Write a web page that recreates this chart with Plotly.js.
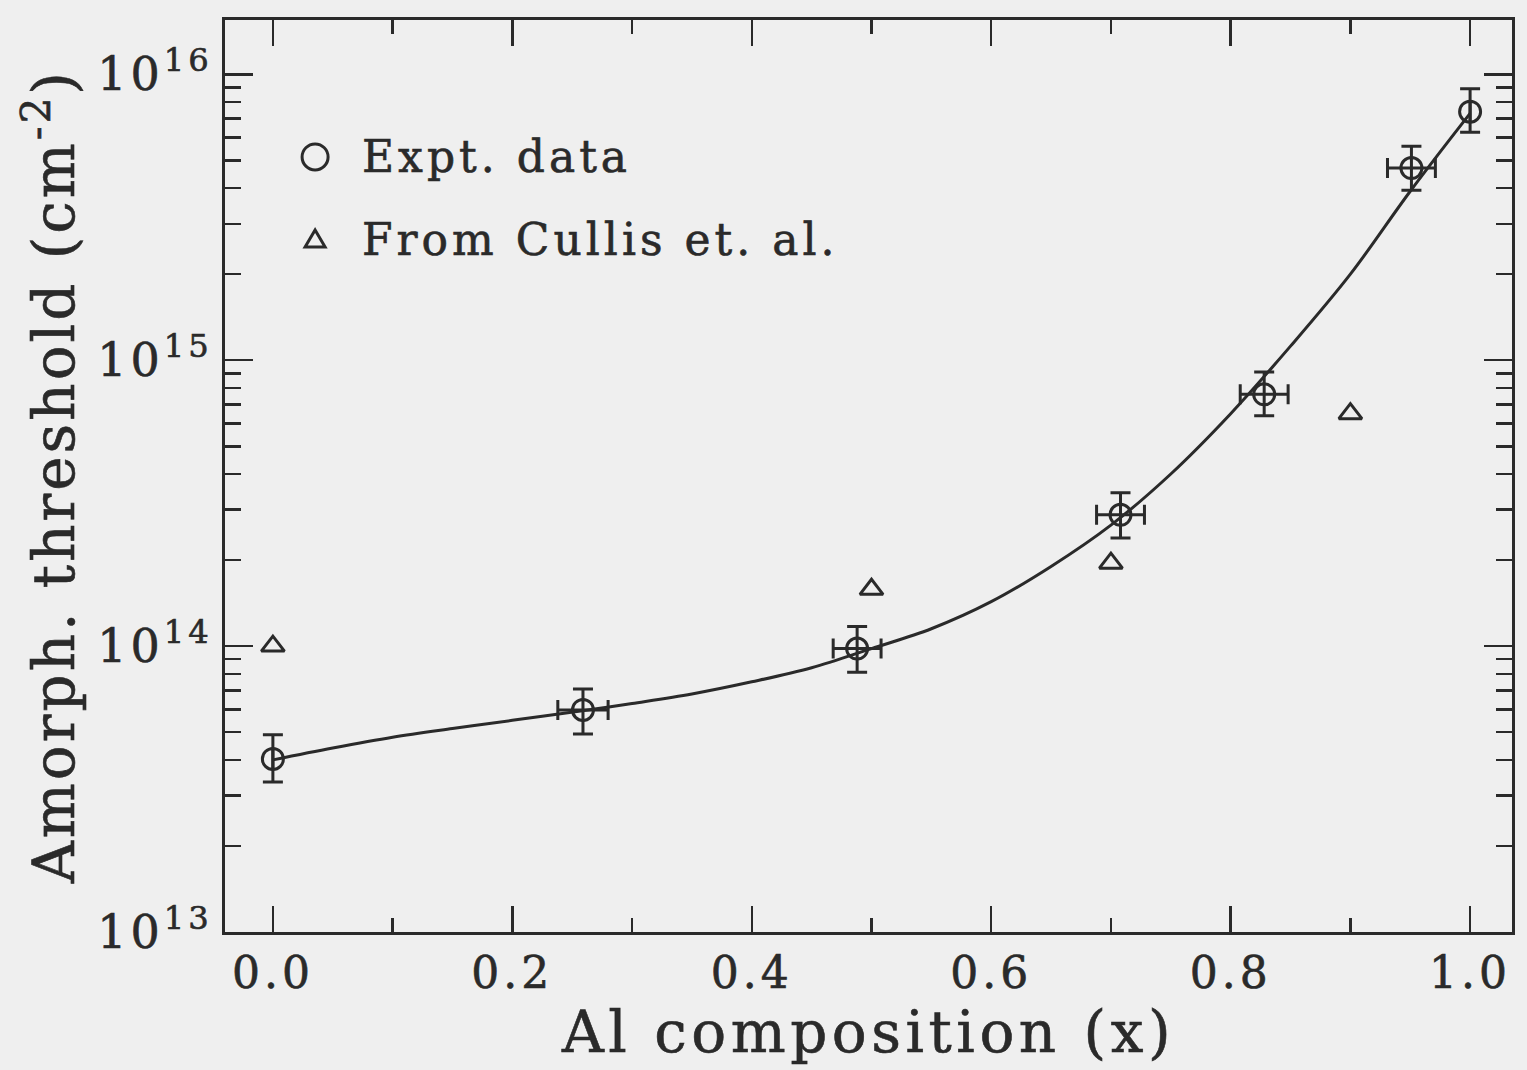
<!DOCTYPE html>
<html>
<head>
<meta charset="utf-8">
<script src="https://cdn.plot.ly/plotly-3.0.1.min.js"></script>
<style>
  html, body { margin: 0; padding: 0; background: #efefef; }
  #chart { width: 1527px; height: 1070px; }
  #chart svg text { letter-spacing: 4px; stroke: #2a2a2a; stroke-width: 0.6px; }
  #chart svg text.xtitle { letter-spacing: 4.5px; }
  #chart svg text.ytitle { letter-spacing: 3px; }
</style>
</head>
<body>
<div id="chart"></div>
<script>
// Experimental data (circles with error bars)
const exptX      = [0.0, 0.259, 0.488, 0.708, 0.828, 0.951, 1.0];
const exptY      = [4.03e13, 5.98e13, 9.8e13, 2.88e14, 7.6e14, 4.7e15, 7.4e15];
const exptYplus  = [0.87e13, 1.10e13, 1.9e13, 0.56e14, 1.5e14, 0.9e15, 1.5e15];
const exptYminus = [0.68e13, 1.05e13, 1.7e13, 0.49e14, 1.2e14, 0.77e15, 1.13e15];
const exptXerr   = [0, 0.021, 0.02, 0.02, 0.02, 0.02, 0];

// From Cullis et al. (triangles)
const cullisX = [0.0, 0.5, 0.7, 0.9];
const cullisY = [1.0e14, 1.58e14, 1.95e14, 6.5e14];

// Fitted curve
const fitX = [0, 0.05, 0.1, 0.15, 0.2, 0.26, 0.3, 0.35, 0.4, 0.45, 0.5, 0.55, 0.6, 0.65, 0.7, 0.75, 0.8, 0.85, 0.9, 0.95, 1.0];
const fitY = [4.0e13, 4.4e13, 4.8e13, 5.15e13, 5.5e13, 5.95e13, 6.3e13, 6.8e13, 7.5e13, 8.4e13, 9.8e13, 1.15e14, 1.43e14, 1.9e14, 2.65e14, 4.0e14, 6.5e14, 1.12e15, 2.0e15, 3.9e15, 7.3e15];

// Legend labels
const legendLabels = ['Expt. data', 'From Cullis et. al.'];

// Axis ticks
const yTickVals = [1e13, 1e14, 1e15, 1e16];
const yTickText = ['10<sup>13</sup>', '10<sup>14</sup>', '10<sup>15</sup>', '10<sup>16</sup>'];
const xTickVals = [0.0, 0.2, 0.4, 0.6, 0.8, 1.0];
const xTickText = ['0.0', '0.2', '0.4', '0.6', '0.8', '1.0'];
const xMinorVals = [0.1, 0.3, 0.5, 0.7, 0.9];

const ink = '#2a2a2a';
const FONT = 'DejaVu Serif, serif';
const LETTER_SPACING = 4;

const yMinorVals = [];
for (let e = 13; e <= 16; e++) {
  for (let m = 2; m <= 9; m++) yMinorVals.push(m * Math.pow(10, e));
}

const traces = [
  {
    x: fitX, y: fitY, mode: 'lines', type: 'scatter',
    line: { color: ink, width: 3, shape: 'spline' },
    showlegend: false, hoverinfo: 'skip'
  },
  {
    x: exptX, y: exptY, mode: 'markers', type: 'scatter', name: legendLabels[0],
    marker: { symbol: 'circle-open', size: 21, color: ink, line: { width: 3, color: ink } },
    error_y: { type: 'data', symmetric: false, array: exptYplus, arrayminus: exptYminus, color: ink, thickness: 3, width: 10 },
    error_x: { type: 'data', array: exptXerr, color: ink, thickness: 3, width: 10 },
    showlegend: false
  },
  {
    x: cullisX, y: cullisY, mode: 'markers', type: 'scatter', name: legendLabels[1],
    marker: { symbol: 'triangle-up-open', size: 20, color: ink, line: { width: 3, color: ink } },
    showlegend: false
  }
];

// Legend drawn as annotations + pixel-sized shapes (plot area: x 225..1512, y 20..932)
const legX = 0.07, legTextX = 0.1049;
const legY = [0.8498, 0.7588];

const layout = {
  width: 1527, height: 1070,
  paper_bgcolor: '#efefef', plot_bgcolor: '#efefef',
  margin: { l: 225, r: 15, t: 20, b: 138 },
  font: { family: FONT, color: ink },
  showlegend: false,
  annotations: legendLabels.map((t, i) => ({
    text: t, xref: 'paper', yref: 'paper', x: legTextX, y: legY[i],
    xanchor: 'left', yanchor: 'middle', showarrow: false,
    xshift: t.length * LETTER_SPACING / 2,
    font: { family: FONT, size: 44, color: ink }
  })),
  shapes: [
    {
      type: 'circle', xref: 'paper', yref: 'paper',
      xsizemode: 'pixel', ysizemode: 'pixel', xanchor: legX, yanchor: legY[0],
      x0: -13, x1: 13, y0: -13, y1: 13,
      line: { color: ink, width: 3 }
    },
    {
      type: 'path', xref: 'paper', yref: 'paper',
      xsizemode: 'pixel', ysizemode: 'pixel', xanchor: legX, yanchor: legY[1],
      path: 'M -10 -7 L 10 -7 L 0 10 Z',
      line: { color: ink, width: 3 }
    }
  ],
  xaxis: {
    range: [-0.04, 1.035],
    tickmode: 'array', tickvals: xTickVals, ticktext: xTickText,
    ticks: 'inside', ticklen: 26, tickwidth: 2.5, tickcolor: ink,
    minor: { tickmode: 'array', tickvals: xMinorVals, ticks: 'inside', ticklen: 14, tickwidth: 2.5, tickcolor: ink },
    showline: true, linecolor: ink, linewidth: 3, mirror: 'allticks',
    showgrid: false, zeroline: false,
    tickfont: { family: FONT, size: 44, color: ink },
    title: { text: 'Al composition (x)', font: { family: FONT, size: 58, color: ink }, standoff: 14 }
  },
  yaxis: {
    type: 'log', range: [13, 16.19],
    tickmode: 'array', tickvals: yTickVals, ticktext: yTickText,
    ticks: 'inside', ticklen: 28, tickwidth: 2.5, tickcolor: ink,
    minor: { tickmode: 'array', tickvals: yMinorVals, ticks: 'inside', ticklen: 16, tickwidth: 2.5, tickcolor: ink },
    showline: true, linecolor: ink, linewidth: 3, mirror: 'allticks',
    showgrid: false, zeroline: false,
    tickfont: { family: FONT, size: 46, color: ink },
    title: { text: 'Amorph. threshold (cm<sup>-2</sup>)', font: { family: FONT, size: 58, color: ink }, standoff: 20 }
  }
};

Plotly.newPlot('chart', traces, layout, { displayModeBar: false, staticPlot: true });
</script>
</body>
</html>
